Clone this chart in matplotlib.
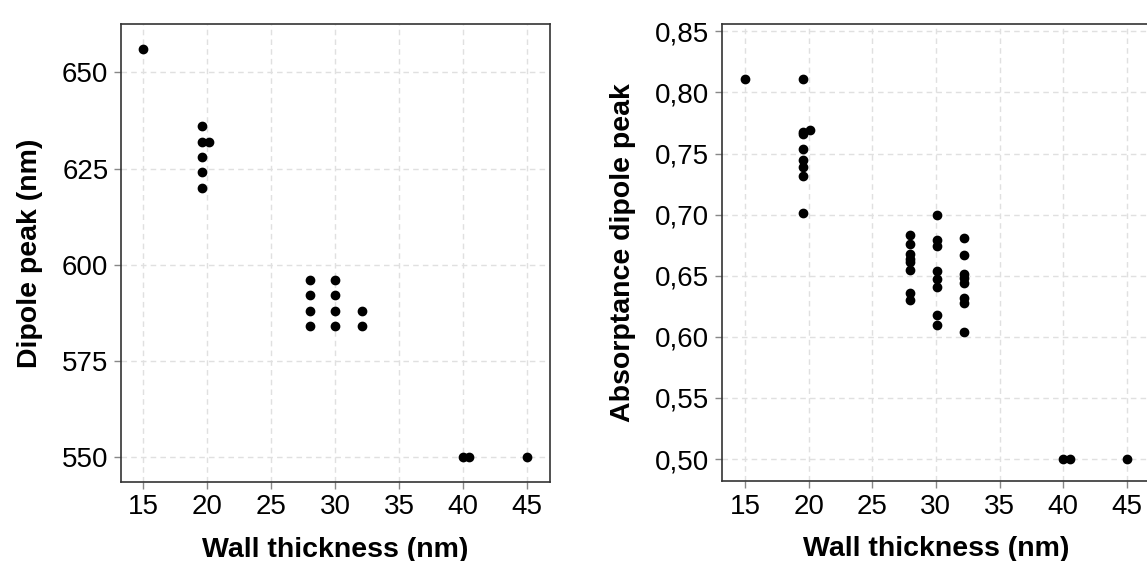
import matplotlib
matplotlib.use('Agg')
import matplotlib.pyplot as plt
from matplotlib.ticker import FuncFormatter

plt.rcParams['font.family'] = ['Liberation Sans', 'DejaVu Sans']

# dipole peak position vs wall thickness
wall_peak = [15, 19.6, 19.6, 19.6, 19.6, 19.6, 20.1,
             28, 28, 28, 28, 30, 30, 30, 30, 32.1, 32.1,
             40, 40.5, 45]
dipole_peak = [656, 636, 632, 628, 624, 620, 632,
               596, 592, 588, 584, 596, 592, 588, 584, 588, 584,
               550, 550, 550]

# absorptance at the dipole peak vs wall thickness
wall_abs = [15,
            19.6, 19.6, 19.6, 19.6, 19.6, 19.6, 19.6, 19.6, 20.1,
            28, 28, 28, 28, 28, 28, 28, 28,
            30.1, 30.1, 30.1, 30.1, 30.1, 30.1, 30.1, 30.1,
            32.2, 32.2, 32.2, 32.2, 32.2, 32.2, 32.2, 32.2,
            40, 40.5, 45]
absorptance = [0.811,
               0.811, 0.768, 0.766, 0.754, 0.745, 0.739, 0.732, 0.701, 0.769,
               0.683, 0.676, 0.668, 0.664, 0.661, 0.655, 0.636, 0.630,
               0.700, 0.679, 0.674, 0.654, 0.647, 0.641, 0.618, 0.610,
               0.681, 0.667, 0.651, 0.648, 0.644, 0.632, 0.628, 0.604,
               0.50, 0.50, 0.50]

x_ticks = [15, 20, 25, 30, 35, 40, 45]
peak_ticks = [550, 575, 600, 625, 650]
abs_ticks = [0.50, 0.55, 0.60, 0.65, 0.70, 0.75, 0.80, 0.85]


def style_axes(ax):
    ax.grid(True, color='#e0e0e0', linestyle=(0, (4, 3)), linewidth=1.0)
    ax.set_axisbelow(True)
    for side in ['left', 'bottom', 'top', 'right']:
        ax.spines[side].set_color('#333333')
        ax.spines[side].set_linewidth(1.2)
    ax.tick_params(axis='both', length=5, width=1, color='#888888',
                   labelsize=20, pad=4)


fig = plt.figure(figsize=(11.47, 5.61), dpi=100)

ax1 = fig.add_axes([121 / 1147, 79 / 561, 429 / 1147, 458 / 561])
ax1.plot(wall_peak, dipole_peak, 'o', color='black', markersize=6)
ax1.set_xlim(13.25, 46.8)
ax1.set_ylim(543.5, 662.6)
ax1.set_xticks(x_ticks)
ax1.set_yticks(peak_ticks)
ax1.set_xlabel('Wall thickness (nm)', fontsize=20.5, fontweight='bold', labelpad=12)
ax1.set_ylabel('Dipole peak (nm)', fontsize=20.5, fontweight='bold', labelpad=14)
style_axes(ax1)

ax2 = fig.add_axes([722 / 1147, 80 / 561, 429 / 1147, 457 / 561])
ax2.plot(wall_abs, absorptance, 'o', color='black', markersize=6)
ax2.set_xlim(13.2, 46.9)
ax2.set_ylim(0.482, 0.856)
ax2.set_xticks(x_ticks)
ax2.set_yticks(abs_ticks)
ax2.yaxis.set_major_formatter(FuncFormatter(lambda v, pos: f'{v:.2f}'.replace('.', ',')))
ax2.set_xlabel('Wall thickness (nm)', fontsize=20.5, fontweight='bold', labelpad=12)
ax2.set_ylabel('Absorptance dipole peak', fontsize=20.5, fontweight='bold', labelpad=14)
style_axes(ax2)

plt.savefig('out.png', dpi=100)
